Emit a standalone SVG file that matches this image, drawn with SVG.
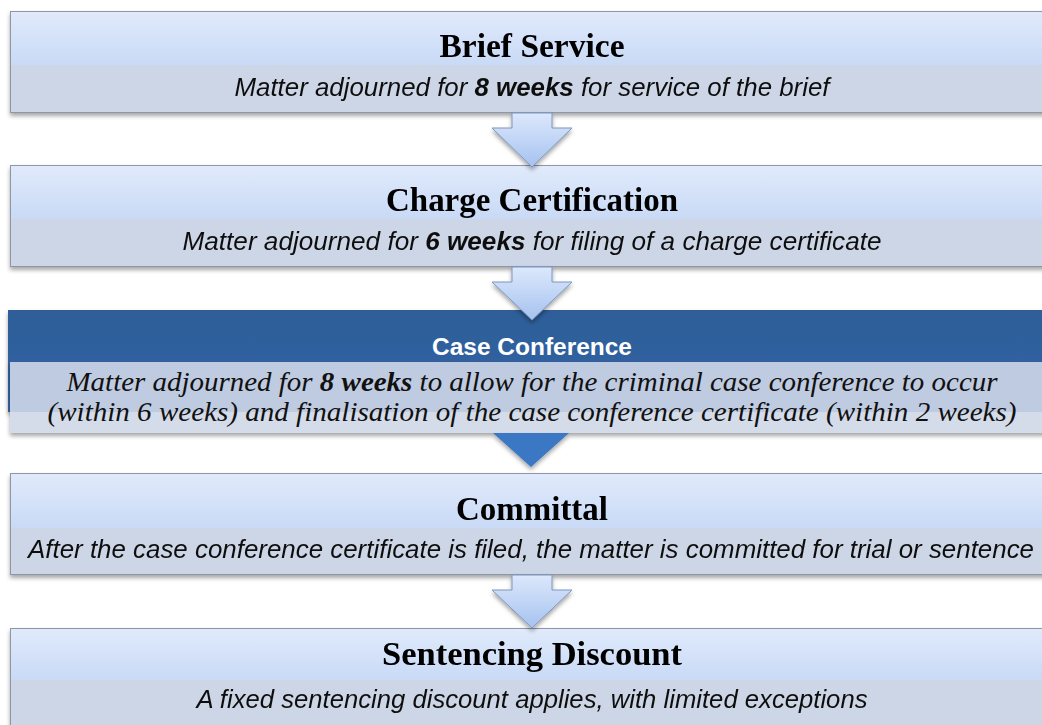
<svg xmlns="http://www.w3.org/2000/svg" width="1042" height="725" viewBox="0 0 1042 725">
<style>
.title{font-family:"Liberation Serif","DejaVu Serif",serif;font-weight:bold;font-size:33px;fill:#000;text-anchor:middle}
.desc{font-family:"Liberation Sans","DejaVu Sans",sans-serif;font-style:italic;font-size:25px;fill:#111;text-anchor:middle}
.desc2{font-family:"Liberation Serif","DejaVu Serif",serif;font-style:italic;font-size:28px;fill:#111;text-anchor:middle}
.ccTitle{font-family:"Liberation Sans","DejaVu Sans",sans-serif;font-weight:bold;font-size:23px;fill:#fff;text-anchor:middle}
.head{fill:url(#headGrad)}
.band{fill:#cdd6e6}
.frame{fill:none;stroke:#8e97a6;stroke-width:1}
.arrowL{fill:url(#arrowGrad);stroke:#7d96bf;stroke-width:1}
.arrowD{fill:#3a77c2}
</style>
<defs>
<linearGradient id="headGrad" x1="0" y1="0" x2="0" y2="1">
<stop offset="0" stop-color="#e0eafb"/>
<stop offset="1" stop-color="#c9daf6"/>
</linearGradient>
<linearGradient id="darkGrad" x1="0" y1="0" x2="0" y2="1">
<stop offset="0" stop-color="#2d5d98"/>
<stop offset="1" stop-color="#3366a6"/>
</linearGradient>
<linearGradient id="arrowGrad" x1="0" y1="0" x2="0" y2="1">
<stop offset="0" stop-color="#dce8fc"/>
<stop offset="1" stop-color="#a6c2ef"/>
</linearGradient>
<filter id="shadow" x="-5%" y="-20%" width="110%" height="150%">
<feDropShadow dx="0" dy="3" stdDeviation="2" flood-color="#000" flood-opacity="0.35"/>
</filter>
</defs>
<rect width="1042" height="725" fill="#fff"/>

<g id="brief-service" filter="url(#shadow)">
<rect class="head" x="10" y="11" width="1040" height="54"/>
<rect class="band" x="10" y="65" width="1040" height="48"/>
<rect class="frame" x="10.5" y="11.5" width="1040" height="101"/>
<text class="title" x="532" y="57" textLength="185" lengthAdjust="spacingAndGlyphs">Brief Service</text>
<text class="desc" x="532" y="96" textLength="595" lengthAdjust="spacingAndGlyphs">Matter adjourned for <tspan font-weight="bold">8 weeks</tspan> for service of the brief</text>
</g>

<g id="charge-certification" filter="url(#shadow)">
<rect class="head" x="10" y="165" width="1040" height="54"/>
<rect class="band" x="10" y="219" width="1040" height="48"/>
<rect class="frame" x="10.5" y="165.5" width="1040" height="101"/>
<text class="title" x="532" y="211" textLength="292" lengthAdjust="spacingAndGlyphs">Charge Certification</text>
<text class="desc" x="532" y="250" textLength="699" lengthAdjust="spacingAndGlyphs">Matter adjourned for <tspan font-weight="bold">6 weeks</tspan> for filing of a charge certificate</text>
</g>

<g id="case-conference">
<rect x="8" y="310" width="1040" height="102" fill="url(#darkGrad)" filter="url(#shadow)"/>
<rect x="10" y="362" width="1040" height="71" fill="#d4dcea" filter="url(#shadow)"/>
<rect x="10" y="362" width="1040" height="50" fill="#bfcbe0"/>
<text class="ccTitle" x="532" y="355" textLength="200" lengthAdjust="spacingAndGlyphs">Case Conference</text>
<text class="desc2" x="532" y="391" textLength="931" lengthAdjust="spacingAndGlyphs">Matter adjourned for <tspan font-weight="bold">8 weeks</tspan> to allow for the criminal case conference to occur</text>
<text class="desc2" x="532" y="421" textLength="969" lengthAdjust="spacingAndGlyphs">(within 6 weeks) and finalisation of the case conference certificate (within 2 weeks)</text>
</g>

<g id="committal" filter="url(#shadow)">
<rect class="head" x="10" y="473" width="1040" height="55"/>
<rect class="band" x="10" y="528" width="1040" height="47"/>
<rect class="frame" x="10.5" y="473.5" width="1040" height="101"/>
<text class="title" x="532" y="520" textLength="152" lengthAdjust="spacingAndGlyphs">Committal</text>
<text class="desc" x="531" y="558" textLength="1006" lengthAdjust="spacingAndGlyphs">After the case conference certificate is filed, the matter is committed for trial or sentence</text>
</g>

<g id="sentencing-discount" filter="url(#shadow)">
<rect class="head" x="10" y="628" width="1040" height="52"/>
<rect class="band" x="10" y="680" width="1040" height="50"/>
<rect class="frame" x="10.5" y="628.5" width="1040" height="110"/>
<text class="title" x="532" y="665" textLength="300" lengthAdjust="spacingAndGlyphs">Sentencing Discount</text>
<text class="desc" x="532" y="708" textLength="671" lengthAdjust="spacingAndGlyphs">A fixed sentencing discount applies, with limited exceptions</text>
</g>

<g id="connectors" filter="url(#shadow)">
<polygon class="arrowL" points="512,113 552,113 552,128 572,128 532,167 492,128 512,128"/>
<polygon class="arrowL" points="512,267 552,267 552,282 572,282 532,320 492,282 512,282"/>
<polygon class="arrowD" points="493,433 569,433 531,467"/>
<polygon class="arrowL" points="512,575 552,575 552,590 572,590 532,628 492,590 512,590"/>
</g>
</svg>
